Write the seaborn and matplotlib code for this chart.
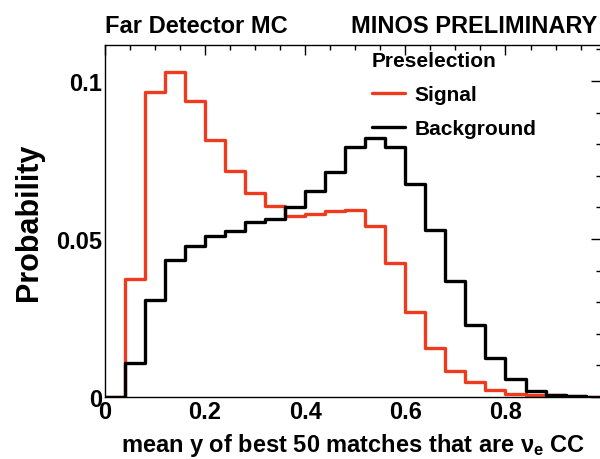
import numpy as np
import pandas as pd
import matplotlib
matplotlib.use("Agg")
import matplotlib.pyplot as plt
from matplotlib.lines import Line2D
from matplotlib.ticker import MultipleLocator, FixedLocator
import seaborn as sns

bin_edges = [round(0.04 * i, 2) for i in range(26)]
signal = [0.0, 0.0373, 0.0964, 0.1029, 0.0936, 0.0814, 0.0715, 0.0645, 0.0603, 0.0574,
          0.0579, 0.0590, 0.0593, 0.0542, 0.0424, 0.0268, 0.0154, 0.0083, 0.0046, 0.0023,
          0.0010, 0.0005, 0.0005, 0.0002, 0.0001]
background = [0.0, 0.0108, 0.0308, 0.0434, 0.0477, 0.0509, 0.0526, 0.0553, 0.0563, 0.0602,
              0.0651, 0.0713, 0.0790, 0.0820, 0.0790, 0.0674, 0.0529, 0.0366, 0.0229, 0.0122,
              0.0057, 0.0020, 0.0006, 0.0003, 0.0001]
series = ["Signal", "Background"]
colors = ["#EE3B1E", "#000000"]
x_ticks = [0, 0.2, 0.4, 0.6, 0.8]
x_ticklabels = ["0", "0.2", "0.4", "0.6", "0.8"]
y_ticks = [0, 0.05, 0.1]
y_ticklabels = ["0", "0.05", "0.1"]

centers = [(bin_edges[i] + bin_edges[i + 1]) / 2 for i in range(len(bin_edges) - 1)]
df = pd.DataFrame({
    "x": centers * 2,
    "w": signal + background,
    "s": ["Signal"] * len(signal) + ["Background"] * len(background),
})

sns.set_theme(style="white")
plt.rcParams["font.family"] = ["Liberation Sans", "DejaVu Sans"]
plt.rcParams["font.weight"] = "bold"
plt.rcParams["text.color"] = "#000000"
plt.rcParams["axes.labelcolor"] = "#000000"
plt.rcParams["xtick.color"] = "#000000"
plt.rcParams["ytick.color"] = "#000000"
plt.rcParams["mathtext.fontset"] = "custom"
plt.rcParams["mathtext.bf"] = "Liberation Sans:bold"
plt.rcParams["mathtext.rm"] = "Liberation Sans:bold"

fig = plt.figure(figsize=(6, 4.6), dpi=100)
ax = fig.add_axes([0.175, 0.135, 0.826, 0.765])

for name, col in zip(series, colors):
    sub = df[df["s"] == name]
    sns.histplot(data=sub, x="x", weights="w", bins=bin_edges, element="step",
                 fill=False, color=col, linewidth=2.4, ax=ax, stat="count")

ax.set_xlim(0, 0.99)
ax.set_ylim(0, 0.1114)
ax.xaxis.set_major_locator(FixedLocator(x_ticks))
ax.xaxis.set_minor_locator(MultipleLocator(0.05))
ax.yaxis.set_major_locator(FixedLocator(y_ticks))
ax.yaxis.set_minor_locator(MultipleLocator(0.01))
ax.set_xticklabels(x_ticklabels)
ax.set_yticklabels(y_ticklabels)
ax.tick_params(axis="both", which="both", direction="in", top=True, right=True,
               labelsize=17, colors="#000000", width=1.0)
ax.tick_params(which="major", length=7)
ax.tick_params(which="minor", length=3.5)
for lab in ax.get_xticklabels() + ax.get_yticklabels():
    lab.set_fontweight("bold")
ax.tick_params(axis="x", pad=2)
ax.tick_params(axis="y", pad=2)

for sp in ["left", "bottom", "top"]:
    ax.spines[sp].set_color("#000000")
    ax.spines[sp].set_linewidth(1.0)
ax.spines["right"].set_visible(False)

ax.set_xlabel(r"mean y of best 50 matches that are $\mathregular{\nu_e}$ CC", fontsize=17,
              fontweight="bold", labelpad=6)
ax.set_ylabel("Probability", fontsize=22, fontweight="bold", labelpad=9)

fig.text(0.175, 0.928, "Far Detector MC", fontsize=17, fontweight="bold", ha="left")
fig.text(0.995, 0.928, "MINOS PRELIMINARY", fontsize=17, fontweight="bold", ha="right")

handles = [Line2D([0], [0], color=c, lw=2.4) for c in colors]
leg = ax.legend(handles, series, title="Preselection", loc="upper left",
                bbox_to_anchor=(0.5, 1.035), frameon=False, fontsize=15,
                title_fontproperties={"weight": "bold", "size": 15},
                handlelength=1.6, handletextpad=0.45, labelspacing=0.72,
                alignment="left")
for t in leg.get_texts():
    t.set_fontweight("bold")

fig.savefig("out.png", dpi=100)
